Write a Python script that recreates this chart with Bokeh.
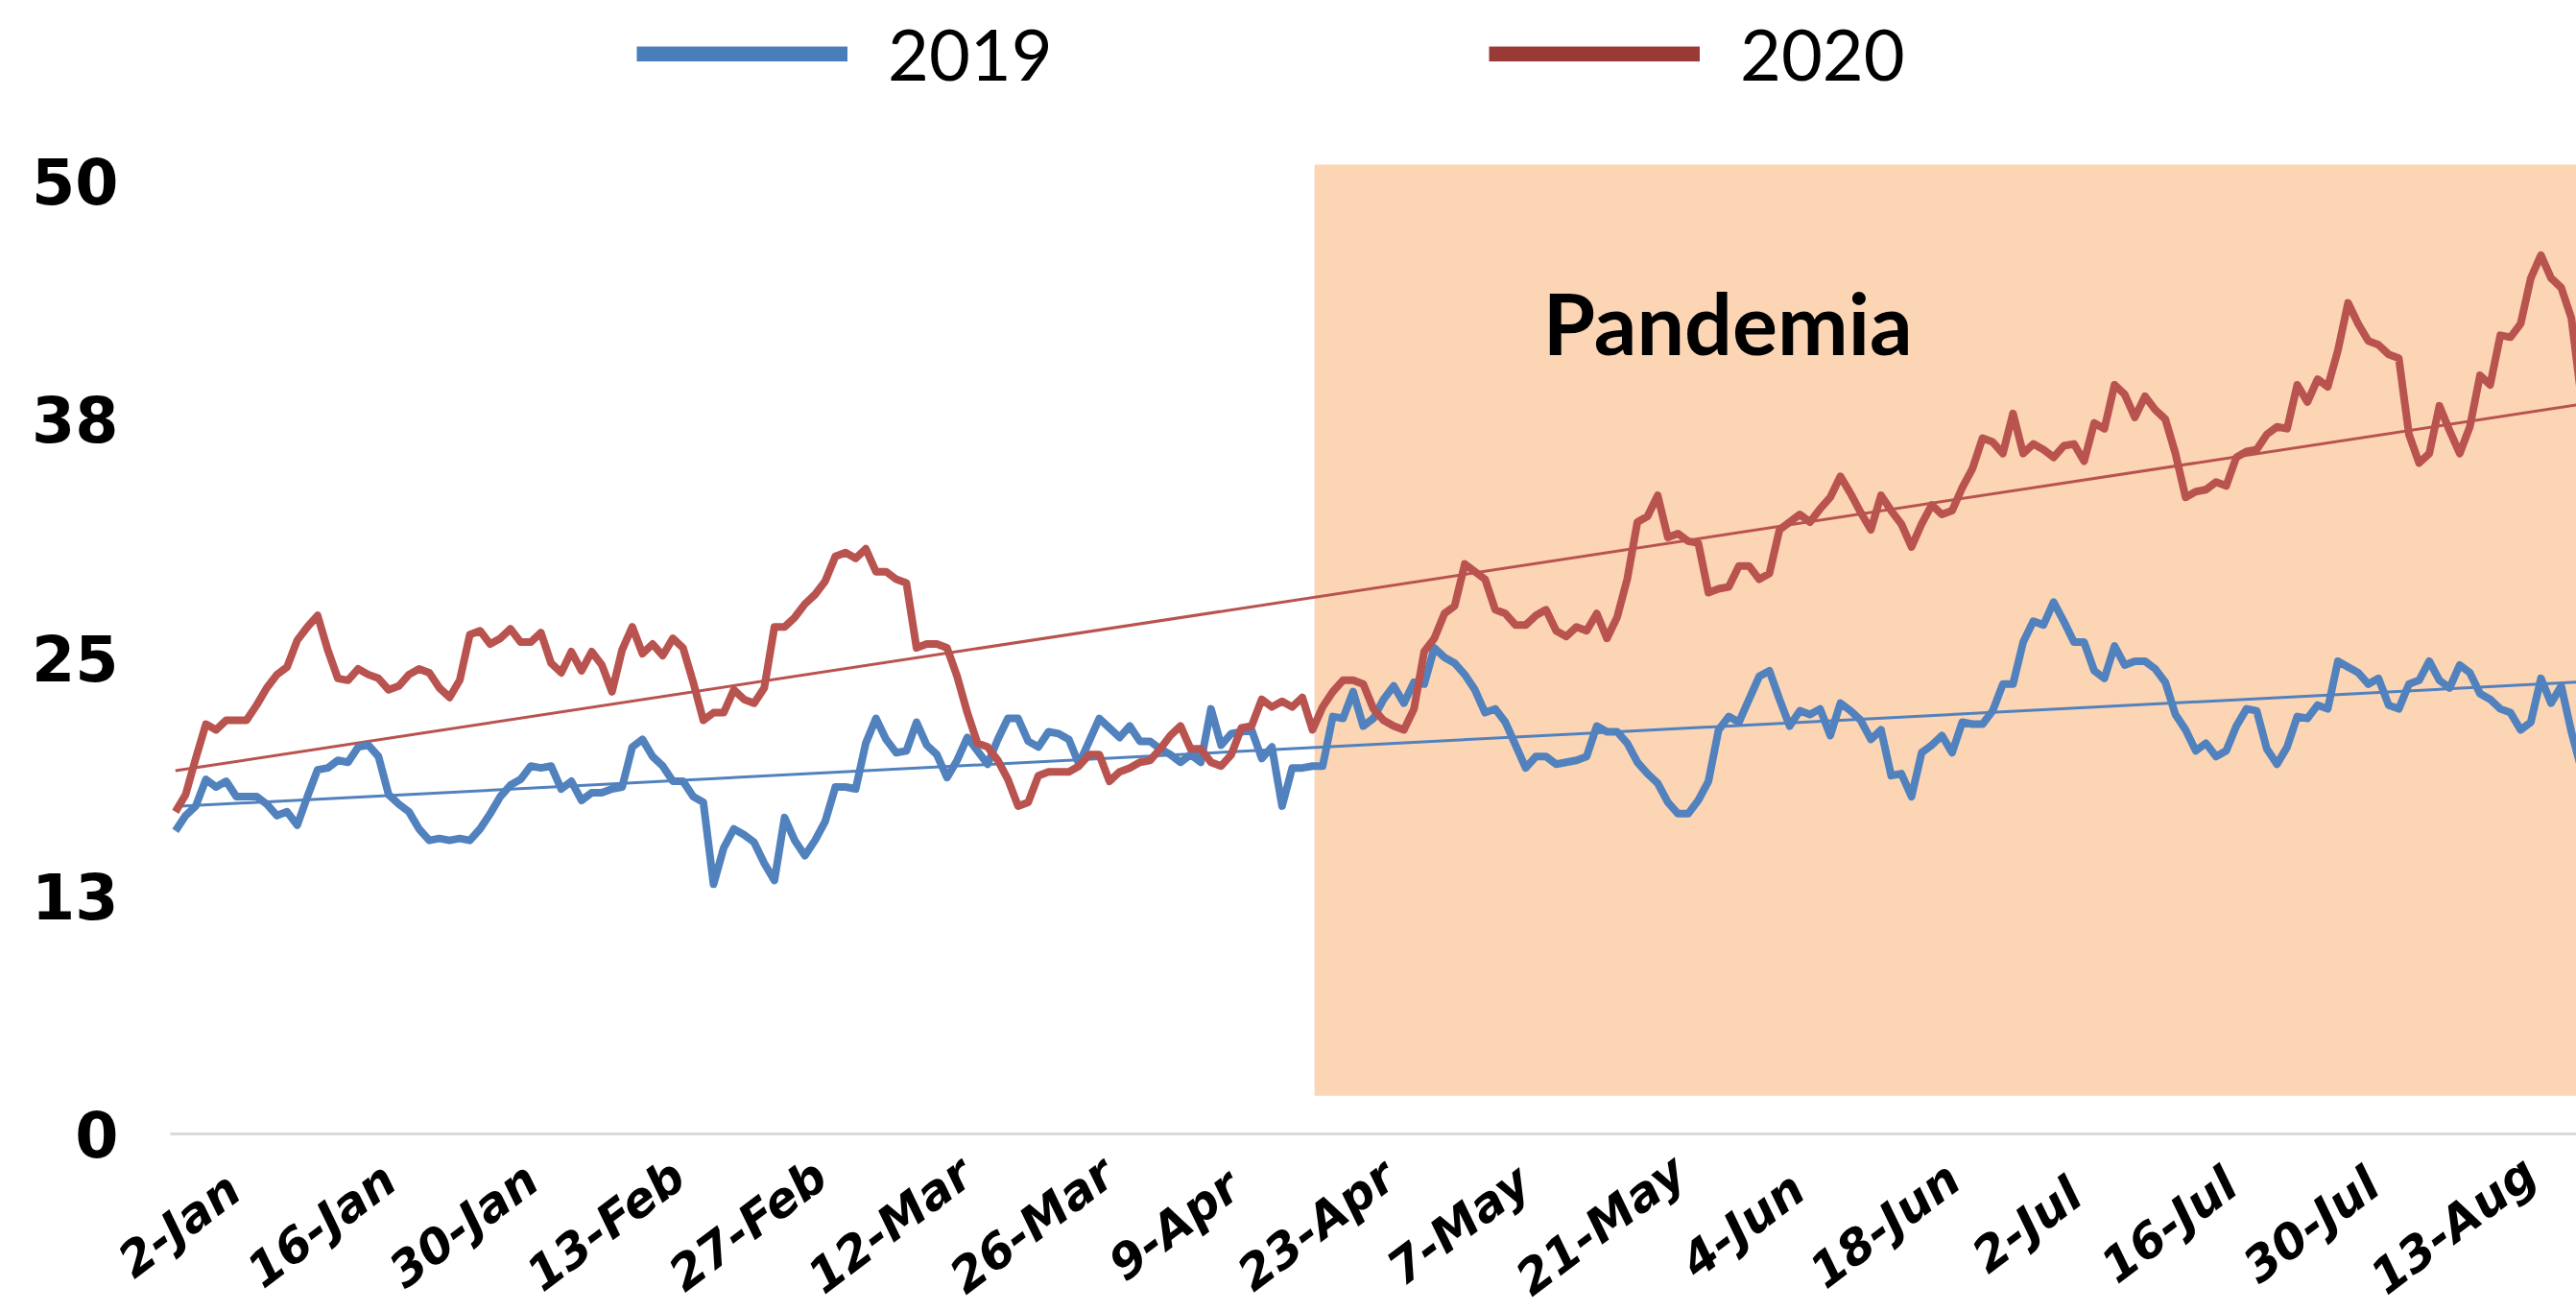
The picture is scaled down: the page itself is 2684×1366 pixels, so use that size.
import numpy as np
from bokeh.plotting import figure
from bokeh.models import (Range1d, BoxAnnotation, Label, Legend, LegendItem)
from bokeh.embed import file_html
from bokeh.resources import INLINE

# ---------------- data ----------------
tick_labels = ["2-Jan", "16-Jan", "30-Jan", "13-Feb", "27-Feb", "12-Mar", "26-Mar", "9-Apr",
               "23-Apr", "7-May", "21-May", "4-Jun", "18-Jun", "2-Jul", "16-Jul", "30-Jul", "13-Aug"]
tick_days = [0, 14, 28, 42, 56, 70, 84, 98, 112, 126, 140, 154, 168, 182, 196, 210, 224]

y_ticks = [0, 12.5, 25, 37.5, 50]
y_tick_labels = ["0", "13", "25", "38", "50"]

series_2019 = [
    15.9, 16.7, 17.2, 18.6, 18.2, 18.5, 17.7, 17.7, 17.7, 17.3, 16.7, 16.9, 16.2, 17.7, 19.1, 19.2,
    19.6, 19.5, 20.3, 20.4, 19.8, 17.8, 17.3, 16.9, 16.0, 15.4, 15.5, 15.4, 15.5, 15.4, 16.0, 16.8,
    17.7, 18.3, 18.6, 19.3, 19.2, 19.3, 18.1, 18.5, 17.5, 17.9, 17.9, 18.1, 18.2, 20.3, 20.7, 19.8,
    19.3, 18.5, 18.5, 17.7, 17.4, 13.1, 15.0, 16.0, 15.7, 15.3, 14.2, 13.3, 16.6, 15.4, 14.6, 15.4,
    16.4, 18.2, 18.2, 18.1, 20.5, 21.8, 20.7, 20.0, 20.1, 21.6, 20.4, 19.9, 18.7, 19.6, 20.8, 20.1,
    19.4, 20.7, 21.8, 21.8, 20.6, 20.3, 21.1, 21.0, 20.7, 19.4, 20.6, 21.8, 21.3, 20.8, 21.4, 20.6,
    20.6, 20.2, 19.9, 19.5, 19.9, 19.5, 22.3, 20.4, 21.0, 21.1, 21.2, 19.7, 20.3, 17.2, 19.2, 19.2,
    19.3, 19.3, 21.9, 21.8, 23.2, 21.4, 21.8, 22.8, 23.5, 22.6, 23.7, 23.6, 25.5, 25.0, 24.7, 24.1,
    23.3, 22.1, 22.3, 21.6, 20.4, 19.2, 19.8, 19.8, 19.4, 19.5, 19.6, 19.8, 21.4, 21.1, 21.1, 20.5,
    19.5, 18.9, 18.4, 17.4, 16.8, 16.8, 17.5, 18.5, 21.2, 21.9, 21.6, 22.8, 24.0, 24.3, 22.8, 21.4,
    22.2, 22.0, 22.3, 20.9, 22.6, 22.2, 21.7, 20.7, 21.2, 18.8, 18.9, 17.7, 20.0, 20.4, 20.9, 20.0,
    21.6, 21.5, 21.5, 22.2, 23.6, 23.6, 25.8, 26.9, 26.7, 27.9, 26.9, 25.8, 25.8, 24.3, 23.9, 25.6,
    24.6, 24.8, 24.8, 24.4, 23.7, 22.0, 21.2, 20.1, 20.5, 19.8, 20.1, 21.4, 22.3, 22.2, 20.2, 19.4,
    20.3, 21.9, 21.8, 22.5, 22.3, 24.8, 24.5, 24.2, 23.6, 23.9, 22.5, 22.3, 23.6, 23.8, 24.8, 23.8,
    23.4, 24.6, 24.2, 23.1, 22.8, 22.3, 22.1, 21.2, 21.6, 23.9, 22.6, 23.5, 21.1, 19.1,
]

series_2020 = [
    16.9, 17.8, 19.7, 21.5, 21.2, 21.7, 21.7, 21.7, 22.5, 23.4, 24.1, 24.5, 25.9, 26.6, 27.2, 25.4,
    23.9, 23.8, 24.4, 24.1, 23.9, 23.3, 23.5, 24.1, 24.4, 24.2, 23.4, 22.9, 23.8, 26.2, 26.4, 25.7,
    26.0, 26.5, 25.8, 25.8, 26.3, 24.7, 24.2, 25.3, 24.3, 25.3, 24.6, 23.2, 25.4, 26.6, 25.2, 25.7,
    25.1, 26.0, 25.5, 23.7, 21.7, 22.1, 22.1, 23.3, 22.8, 22.6, 23.4, 26.6, 26.6, 27.1, 27.8, 28.3,
    29.0, 30.3, 30.5, 30.2, 30.7, 29.5, 29.5, 29.1, 28.9, 25.5, 25.7, 25.7, 25.5, 24.0, 22.1, 20.5,
    20.3, 19.6, 18.6, 17.2, 17.4, 18.8, 19.0, 19.0, 19.0, 19.3, 19.9, 19.9, 18.5, 19.0, 19.2, 19.5,
    19.6, 20.2, 20.9, 21.4, 20.2, 20.2, 19.5, 19.3, 19.9, 21.3, 21.4, 22.8, 22.4, 22.7, 22.4, 22.9,
    21.2, 22.4, 23.2, 23.8, 23.8, 23.6, 22.3, 21.7, 21.4, 21.2, 22.3, 25.3, 26.0, 27.3, 27.7, 29.9,
    29.5, 29.1, 27.5, 27.3, 26.7, 26.7, 27.2, 27.5, 26.4, 26.1, 26.6, 26.4, 27.3, 26.0, 27.1, 29.1,
    32.1, 32.4, 33.5, 31.3, 31.5, 31.1, 31.0, 28.4, 28.6, 28.7, 29.8, 29.8, 29.1, 29.4, 31.7, 32.1,
    32.5, 32.1, 32.8, 33.4, 34.5, 33.6, 32.6, 31.7, 33.5, 32.7, 32.0, 30.8, 32.0, 33.0, 32.5, 32.7,
    33.9, 34.9, 36.5, 36.3, 35.7, 37.8, 35.7, 36.2, 35.9, 35.5, 36.1, 36.2, 35.3, 37.3, 37.0, 39.3,
    38.8, 37.6, 38.7, 38.0, 37.5, 35.7, 33.4, 33.7, 33.8, 34.2, 34.0, 35.5, 35.8, 35.9, 36.7, 37.1,
    37.0, 39.3, 38.4, 39.6, 39.2, 41.1, 43.6, 42.5, 41.6, 41.4, 40.9, 40.7, 36.7, 35.2, 35.7, 38.2,
    36.9, 35.7, 37.1, 39.8, 39.3, 41.9, 41.8, 42.5, 44.9, 46.1, 44.9, 44.4, 42.8, 38.5,
]

days = list(range(len(series_2019)))

# pandemic period (shaded) and its label
pandemic_start_day = 112.2
pandemic_low, pandemic_high = 2.0, 50.86
pandemic_text = "Pandemia"

# ---------------- colours / geometry ----------------
BLUE = "#5182BE"
RED = "#B9534F"
BLUE_LEG = "#4A7EBB"
RED_LEG = "#9A3A37"
SHADE = "#FCD5B5"
AXIS_GREY = "#D9D9D9"

W, H = 2684, 1366
PX_PER_DAY = 10.578          # horizontal scale
PX_PER_UNIT = 19.86          # vertical scale
PLOT_LEFT, FIFTY_Y = 177, 188   # where the category axis starts / where y=50 sits

X_AXIS_START = -0.5          # half a day before the first point
X0 = X_AXIS_START - PLOT_LEFT / PX_PER_DAY
X1 = X_AXIS_START + (W - PLOT_LEFT) / PX_PER_DAY
Y1 = 50 + FIFTY_Y / PX_PER_UNIT
Y0 = Y1 - H / PX_PER_UNIT

p = figure(width=W, height=H, x_range=Range1d(X0, X1), y_range=Range1d(Y0, Y1),
           output_backend="svg", toolbar_location=None,
           x_axis_location=None, y_axis_location=None,
           min_border_left=0, min_border_right=0, min_border_top=0, min_border_bottom=0)
p.outline_line_color = None
p.grid.visible = False
p.background_fill_color = "white"
p.border_fill_color = "white"

# shaded pandemic box
p.add_layout(BoxAnnotation(left=pandemic_start_day, bottom=pandemic_low, top=pandemic_high,
                           fill_color=SHADE, fill_alpha=1.0, line_color=None, level="underlay"))

# horizontal category axis line at y = 0
p.line([X_AXIS_START, X1], [0, 0], line_color=AXIS_GREY, line_width=3)

# trend lines (linear fits of each series)
d = np.array(days, dtype=float)
for vals, col in ((series_2019, BLUE), (series_2020, RED)):
    k, b = np.polyfit(d, np.array(vals), 1)
    xs = [d[0], d[-1]]
    p.line(xs, [b + k * x for x in xs], line_color=col, line_width=3)

# data lines
p.line(days, series_2019, line_color=BLUE, line_width=8, line_join="round")
p.line(days, series_2020, line_color=RED, line_width=8, line_join="round")

# legend with thick sample lines
l19 = p.line([np.nan], [np.nan], line_color=BLUE_LEG, line_width=16)
l20 = p.line([np.nan], [np.nan], line_color=RED_LEG, line_width=16)
legend = Legend(items=[LegendItem(label="2019", renderers=[l19]),
                       LegendItem(label="2020", renderers=[l20])],
                orientation="horizontal", location=(663, 1266),
                glyph_width=220, glyph_height=16, label_standoff=42, label_width=172,
                spacing=454, padding=0, margin=0,
                border_line_color=None, background_fill_alpha=0,
                label_text_font="Lato", label_text_font_size="74px", label_text_color="black")
p.add_layout(legend)

# value-axis labels
y_label_x = X_AXIS_START - 54 / PX_PER_DAY
for t, s in zip(y_ticks, y_tick_labels):
    p.add_layout(Label(x=y_label_x, y=t, text=s, text_align="right", text_baseline="middle",
                       text_font="DejaVu Sans", text_font_style="bold",
                       text_font_size="65px", text_color="black"))

# category labels, rotated and centred on their days
label_y = -95 / PX_PER_UNIT
for dd, txt in zip(tick_days, tick_labels):
    p.add_layout(Label(x=dd + 0.4, y=label_y, text=txt, angle=np.deg2rad(37),
                       text_align="center", text_baseline="middle",
                       text_font="DejaVu Sans", text_font_style="bold italic",
                       text_font_size="50px", text_color="black"))

p.add_layout(Label(x=152.9, y=42.55, text=pandemic_text, text_align="center",
                   text_baseline="middle", text_font="Lato", text_font_style="bold",
                   text_font_size="88px", text_color="black"))

open("out.html", "w").write(file_html(p, INLINE))
